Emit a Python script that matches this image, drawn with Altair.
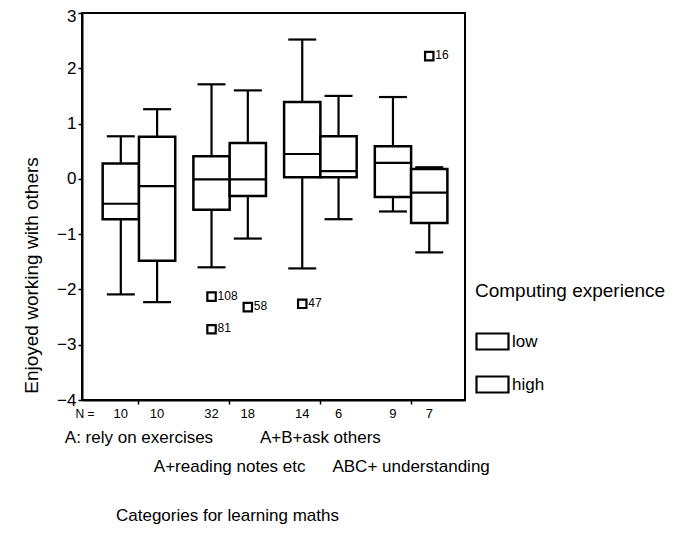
import altair as alt
import pandas as pd

# ---- data ----
groups = ["A: rely on exercises", "A+reading notes etc", "A+B+ask others", "ABC+ understanding"]
experience = ["low", "high"]

box_group = [0, 0, 1, 1, 2, 2, 3, 3]
box_exp = ["low", "high", "low", "high", "low", "high", "low", "high"]
n_counts = [10, 10, 32, 18, 14, 6, 9, 7]
whisker_low = [-2.09, -2.23, -1.60, -1.08, -1.62, -0.73, -0.59, -1.33]
q1 = [-0.73, -1.48, -0.56, -0.31, 0.03, 0.03, -0.33, -0.80]
median = [-0.45, -0.13, -0.01, -0.01, 0.45, 0.14, 0.29, -0.25]
q3 = [0.28, 0.76, 0.41, 0.65, 1.39, 0.77, 0.59, 0.18]
whisker_high = [0.77, 1.26, 1.71, 1.60, 2.52, 1.50, 1.48, 0.21]

out_case = ["108", "81", "58", "47", "16"]
out_group = [1, 1, 1, 2, 3]
out_exp = ["low", "low", "high", "low", "high"]
out_value = [-2.13, -2.72, -2.32, -2.26, 2.22]

y_ticks = [-4, -3, -2, -1, 0, 1, 2, 3]

FONT = "Liberation Sans"

boxes = pd.DataFrame({
    "group": [groups[i] for i in box_group],
    "exp": box_exp,
    "n": [str(v) for v in n_counts],
    "lo": whisker_low, "q1": q1, "med": median, "q3": q3, "hi": whisker_high,
})
outliers = pd.DataFrame({
    "group": [groups[i] for i in out_group],
    "exp": out_exp,
    "case": out_case,
    "value": out_value,
})
cats = pd.DataFrame({"group": groups, "line": [i % 2 for i in range(len(groups))]})

x_enc = alt.X(
    "group:N", sort=groups,
    scale=alt.Scale(paddingInner=0.2, paddingOuter=0.211, align=0.54),
    axis=alt.Axis(
        labels=False, ticks=True, tickSize=4, tickColor="black", tickWidth=1.5,
        domainColor="black", domainWidth=2,
        title="Categories for learning maths", titleFont=FONT, titleFontSize=17,
        titleFontWeight="normal", titleColor="black",
        titleX=145, titleY=115, titleAlign="center", titleBaseline="middle",
    ),
)
xo_enc = alt.XOffset("exp:N", sort=experience, scale=alt.Scale(paddingInner=0, paddingOuter=0))
y_scale = alt.Scale(domain=[-4, 3], nice=False, zero=False)
y_axis = alt.Axis(
    values=y_ticks, format="d", grid=False, tickSize=4, tickColor="black", tickWidth=1.5,
    domainColor="black", domainWidth=2,
    labelFont=FONT, labelFontSize=17, labelColor="black", labelPadding=2,
    labelOffset={"condition": {"test": "datum.value == 3", "value": 3}, "value": 0},
    title="Enjoyed working with others", titleFont=FONT, titleFontSize=19,
    titleFontWeight="normal", titleColor="black", titleAngle=-90,
    titleX=-51, titleY=262, titleAlign="center", titleBaseline="middle",
)

base = alt.Chart(boxes)

whiskers = base.mark_rule(color="black", strokeWidth=2.2, opacity=1).encode(
    x=x_enc, xOffset=xo_enc,
    y=alt.Y("lo:Q", scale=y_scale, axis=y_axis), y2="hi:Q",
)
box = base.mark_bar(stroke="black", strokeWidth=2.5, opacity=1).encode(
    x=x_enc, xOffset=xo_enc,
    y=alt.Y("q1:Q", scale=y_scale), y2="q3:Q",
    fill=alt.Fill(
        "exp:N", sort=experience,
        scale=alt.Scale(domain=experience, range=["white", "white"]),
        legend=alt.Legend(
            title="Computing experience", orient="none", direction="vertical",
            legendX=393, legendY=269, padding=0, titleLimit=400, labelLimit=200,
            titleFont=FONT, titleFontSize=19, titleFontWeight="normal", titleColor="black",
            titlePadding=23, labelFont=FONT, labelFontSize=17, labelColor="black",
            labelOffset=2, rowPadding=13,
            symbolType="M-1,-0.5H1V0.5H-1Z", symbolSize=1024,
            symbolStrokeColor="black", symbolStrokeWidth=2.2, symbolFillColor="white",
            symbolOpacity=1,
        ),
    ),
)
med = base.mark_tick(color="black", thickness=2.2, size=36, orient="horizontal", opacity=1).encode(
    x=x_enc, xOffset=xo_enc, y=alt.Y("med:Q", scale=y_scale),
)
cap_lo = base.mark_tick(color="black", thickness=2.2, size=28, orient="horizontal", opacity=1).encode(
    x=x_enc, xOffset=xo_enc, y=alt.Y("lo:Q", scale=y_scale),
)
cap_hi = base.mark_tick(color="black", thickness=2.2, size=28, orient="horizontal", opacity=1).encode(
    x=x_enc, xOffset=xo_enc, y=alt.Y("hi:Q", scale=y_scale),
)
n_text = base.mark_text(font=FONT, fontSize=13, color="black", baseline="middle").encode(
    x=x_enc, xOffset=xo_enc, y=alt.value(401), text="n:N",
)
n_label = alt.Chart(pd.DataFrame({"t": ["N ="]})).mark_text(
    font=FONT, fontSize=12, color="black", baseline="middle", align="center"
).encode(x=alt.value(3), y=alt.value(401), text="t:N")

pts = alt.Chart(outliers).mark_point(
    shape="square", filled=False, color="black", size=70, strokeWidth=2.2, opacity=1
).encode(x=x_enc, xOffset=xo_enc, y=alt.Y("value:Q", scale=y_scale))
pt_labels = alt.Chart(outliers).mark_text(
    font=FONT, fontSize=12, color="black", align="left", baseline="middle", dx=6, dy=-1
).encode(x=x_enc, xOffset=xo_enc, y=alt.Y("value:Q", scale=y_scale), text="case:N")

cat1 = alt.Chart(cats).transform_filter("datum.line == 0").mark_text(
    font=FONT, fontSize=17, color="black", baseline="middle"
).encode(x=x_enc, y=alt.value(425), text="group:N")
cat2 = alt.Chart(cats).transform_filter("datum.line == 1").mark_text(
    font=FONT, fontSize=17, color="black", baseline="middle"
).encode(x=x_enc, y=alt.value(454), text="group:N")

chart = alt.layer(
    whiskers, box, med, cap_lo, cap_hi, n_text, n_label, pts, pt_labels, cat1, cat2
).properties(
    width=383, height=387,
    autosize=alt.AutoSizeParams(type="none"),
    padding={"left": 74, "top": 5, "right": 217, "bottom": 125},
    background="white",
).configure_view(stroke="black", strokeWidth=2)

chart.save("out.html", embed_options={"renderer": "svg", "actions": False})
